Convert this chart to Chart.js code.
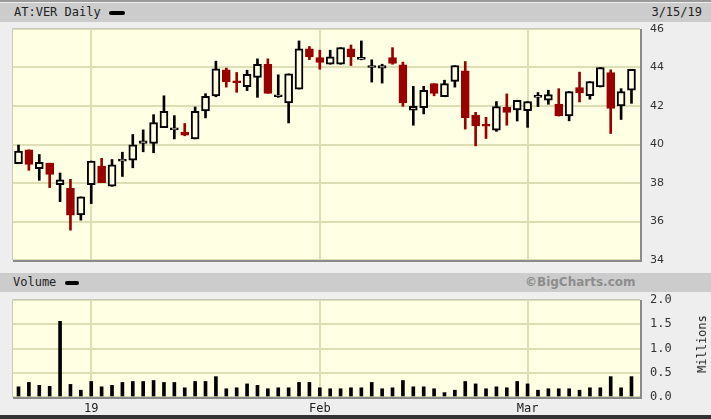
<!DOCTYPE html>
<html>
<head>
<meta charset="utf-8">
<script src="https://cdn.jsdelivr.net/npm/chart.js@4.4.1/dist/chart.umd.min.js"></script>
<style>
  html, body { margin: 0; padding: 0; }
  body {
    width: 711px; height: 419px; position: relative; overflow: hidden;
    background: #eeeeee; color: #222;
    font-family: "DejaVu Sans Mono", monospace; font-size: 12px;
  }
  .band { position: absolute; left: 0; width: 711px; height: 19px; background: #cccccc; }
  .txt { position: absolute; line-height: 19px; white-space: nowrap; }
  .dash { position: absolute; width: 16px; height: 4px; background: #000; border-radius: 2px; }
  canvas { position: absolute; left: 0; }
  #topline { position: absolute; left: 0; top: 0; width: 711px; height: 2px; background: #9a9a9a; }
  #botline { position: absolute; left: 0; top: 415px; width: 711px; height: 4px; background: #333; }
  #millions { position: absolute; left: 702px; top: 344px; transform: translate(-50%, -50%) rotate(-90deg); white-space: nowrap; }
</style>
</head>
<body>
<div id="topline"></div>
<div class="band" style="top:3px">
  <span class="txt" style="left:14px">AT:VER Daily</span>
  <div class="dash" style="left:109px; top:8px"></div>
  <span class="txt" style="right:9px">3/15/19</span>
</div>
<canvas id="priceChart" width="711" height="245" style="top:22px"></canvas>
<div class="band" style="top:273px">
  <span class="txt" style="left:13px">Volume</span>
  <div class="dash" style="left:65px; top:8px; width:14px"></div>
  <span class="txt" style="left:525px; font-family:'DejaVu Sans'; font-weight:bold; color:#8c8c8c">©BigCharts.com</span>
</div>
<canvas id="volumeChart" width="711" height="125" style="top:292px"></canvas>
<div id="millions">Millions</div>
<div id="botline"></div>

<script>
// Trading days shown (Vienna, Dec 2018 - Mar 2019)
const dates = [
    '2018-12-17', '2018-12-18', '2018-12-19', '2018-12-20', '2018-12-21', '2018-12-27', '2018-12-28',
    '2019-01-02', '2019-01-03', '2019-01-04', '2019-01-07', '2019-01-08', '2019-01-09', '2019-01-10', '2019-01-11',
    '2019-01-14', '2019-01-15', '2019-01-16', '2019-01-17', '2019-01-18', '2019-01-21', '2019-01-22', '2019-01-23',
    '2019-01-24', '2019-01-25', '2019-01-28', '2019-01-29', '2019-01-30', '2019-01-31',
    '2019-02-01', '2019-02-04', '2019-02-05', '2019-02-06', '2019-02-07', '2019-02-08', '2019-02-11', '2019-02-12',
    '2019-02-13', '2019-02-14', '2019-02-15', '2019-02-18', '2019-02-19', '2019-02-20', '2019-02-21', '2019-02-22',
    '2019-02-25', '2019-02-26', '2019-02-27', '2019-02-28',
    '2019-03-01', '2019-03-04', '2019-03-05', '2019-03-06', '2019-03-07', '2019-03-08', '2019-03-11', '2019-03-12',
    '2019-03-13', '2019-03-14', '2019-03-15'
];

const openPrices = [
    39.00, 39.72, 38.74, 39.03, 37.91, 37.72, 36.34, 37.91, 38.88, 37.83,
    39.14, 39.19, 40.05, 40.05, 40.88, 40.76, 40.64, 40.29, 41.74, 42.53,
    43.88, 43.25, 43.00, 43.48, 44.17, 42.48, 42.16, 42.88, 44.97, 44.52,
    44.17, 44.17, 44.97, 44.42, 44.00, 43.97, 44.52, 44.14, 41.78, 41.91,
    43.16, 42.48, 43.28, 43.83, 41.53, 41.00, 40.75, 41.93, 41.79, 41.76,
    42.45, 42.30, 42.10, 41.48, 42.96, 42.54, 42.99, 43.74, 42.00, 42.82
];
const highPrices = [
    39.97, 39.72, 39.48, 39.03, 38.52, 38.19, 37.28, 39.14, 39.28, 39.22,
    39.60, 40.52, 40.76, 41.55, 42.53, 41.50, 41.09, 41.95, 42.64, 44.33,
    43.97, 43.74, 43.86, 44.45, 44.45, 43.62, 43.67, 45.38, 45.09, 44.90,
    44.90, 45.03, 45.17, 45.38, 44.40, 44.17, 45.03, 44.28, 43.02, 43.02,
    43.16, 43.34, 44.10, 44.31, 41.67, 41.41, 42.23, 42.63, 42.30, 42.23,
    42.70, 42.82, 42.90, 42.75, 43.76, 43.27, 44.00, 43.88, 42.90, 43.91
];
const lowPrices = [
    39.00, 38.66, 38.14, 37.76, 37.03, 35.55, 36.07, 36.93, 38.02, 37.83,
    38.34, 38.79, 39.62, 39.57, 40.88, 40.29, 40.45, 40.29, 41.38, 42.48,
    42.98, 42.71, 42.80, 42.45, 42.66, 42.45, 41.12, 42.88, 44.41, 43.91,
    44.17, 44.17, 44.10, 44.40, 43.24, 43.19, 44.17, 41.98, 41.00, 41.59,
    42.53, 42.48, 42.98, 40.80, 39.93, 40.31, 40.68, 41.00, 41.22, 40.89,
    41.97, 42.09, 41.48, 41.23, 42.21, 42.35, 42.99, 40.57, 41.30, 42.14
];
const closePrices = [
    39.66, 38.97, 39.07, 38.45, 38.17, 36.33, 37.28, 39.14, 38.02, 38.95,
    39.14, 39.98, 40.19, 41.14, 41.72, 40.76, 40.48, 41.72, 42.50, 43.93,
    43.27, 43.20, 43.65, 44.17, 42.66, 42.48, 43.67, 44.97, 44.55, 44.26,
    44.55, 45.03, 44.55, 44.46, 44.00, 44.10, 44.21, 42.16, 41.98, 42.81,
    42.66, 43.16, 44.10, 41.39, 40.97, 40.95, 41.97, 41.67, 42.30, 42.23,
    42.45, 42.59, 41.48, 42.75, 42.68, 43.27, 44.00, 41.88, 42.75, 43.91
];

// Volume in millions of shares
const volumes = [
    0.21, 0.30, 0.24, 0.22, 1.56, 0.26, 0.14, 0.32, 0.21, 0.24,
    0.30, 0.32, 0.32, 0.34, 0.30, 0.30, 0.19, 0.32, 0.32, 0.42,
    0.17, 0.19, 0.27, 0.24, 0.17, 0.19, 0.19, 0.30, 0.30, 0.19,
    0.17, 0.17, 0.19, 0.19, 0.30, 0.17, 0.19, 0.34, 0.21, 0.21,
    0.17, 0.09, 0.14, 0.32, 0.27, 0.17, 0.21, 0.19, 0.32, 0.27,
    0.14, 0.17, 0.17, 0.17, 0.14, 0.19, 0.19, 0.42, 0.19, 0.42
];

const priceTicks = [34, 36, 38, 40, 42, 44, 46];
const volumeTicks = [0, 0.5, 1.0, 1.5, 2.0];
const monthLabels = ['19', 'Feb', 'Mar'];

const CREAM = '#ffffe4';
const GRID = '#dedeb4';
const DOWN = '#990000';
const UP = '#000000';

// first trading day of each new month gets a vertical gridline
const monthStarts = [];
dates.forEach((d, i) => {
    if (i > 0 && d.slice(0, 7) !== dates[i - 1].slice(0, 7)) monthStarts.push(i);
});

const isDown = i => closePrices[i] < openPrices[i];

const X_MIN = -0.53;
const X_MAX = 59.82;

// Cream plot area plus the bevelled frame
const plotFrame = {
    id: 'plotFrame',
    beforeDraw(chart) {
        const { ctx, chartArea: a } = chart;
        ctx.save();
        ctx.fillStyle = CREAM;
        ctx.fillRect(a.left, a.top, a.right - a.left, a.bottom - a.top);
        ctx.restore();
    },
    afterDraw(chart) {
        const { ctx, chartArea: a } = chart;
        ctx.save();
        ctx.strokeStyle = '#c9c9bb';
        ctx.lineWidth = 1;
        ctx.beginPath();
        ctx.moveTo(a.left - 0.5, a.bottom);
        ctx.lineTo(a.left - 0.5, a.top - 0.5);
        ctx.lineTo(a.right, a.top - 0.5);
        ctx.stroke();
        ctx.strokeStyle = '#8a8a8a';
        ctx.lineWidth = 2;
        ctx.beginPath();
        ctx.moveTo(a.left, a.bottom + 1);
        ctx.lineTo(a.right + 1, a.bottom + 1);
        ctx.lineTo(a.right + 1, a.top);
        ctx.stroke();
        ctx.restore();
    }
};

function xScale(showLabels) {
    return {
        type: 'linear',
        min: X_MIN,
        max: X_MAX,
        offset: false,
        afterBuildTicks: scale => {
            scale.ticks = monthStarts.map(v => ({ value: v }));
        },
        afterFit: scale => { scale.height = showLabels ? 20 : 0; },
        border: { display: false },
        grid: { color: GRID, lineWidth: 2, drawTicks: false, offset: false },
        ticks: {
            display: showLabels,
            autoSkip: false,
            maxRotation: 0,
            padding: 5,
            color: '#222',
            font: { family: 'DejaVu Sans Mono', size: 12 },
            callback: v => monthLabels[monthStarts.indexOf(v)] || ''
        }
    };
}

function yScale(tickValues, font, fmt) {
    return {
        position: 'right',
        min: tickValues[0],
        max: tickValues[tickValues.length - 1],
        afterBuildTicks: scale => {
            scale.ticks = tickValues.map(v => ({ value: v }));
        },
        afterFit: scale => { scale.width = 71; },
        border: { display: false },
        // invisible tick marks give the gap before the labels
        grid: { color: GRID, lineWidth: 2, drawTicks: true, tickLength: 10, tickColor: 'rgba(0,0,0,0)' },
        ticks: {
            padding: 0,
            color: '#333',
            font: font,
            callback: fmt
        }
    };
}

const commonOptions = {
    responsive: false,
    animation: false,
    events: [],
    plugins: { legend: { display: false }, tooltip: { enabled: false } }
};

new Chart(document.getElementById('priceChart').getContext('2d'), {
    type: 'bar',
    data: {
        datasets: [
            {
                // candle bodies (open -> close)
                order: 0,
                grouped: false,
                barThickness: 8,
                minBarLength: 2,
                borderWidth: 2,
                borderSkipped: false,
                data: dates.map((d, i) => ({ x: i, y: [openPrices[i], closePrices[i]] })),
                backgroundColor: ctx => isDown(ctx.dataIndex) ? DOWN : CREAM,
                borderColor: ctx => isDown(ctx.dataIndex) ? DOWN : UP
            },
            {
                // wicks (low -> high)
                order: 1,
                grouped: false,
                barThickness: 2,
                borderWidth: 0,
                data: dates.map((d, i) => ({ x: i, y: [lowPrices[i], highPrices[i]] })),
                backgroundColor: ctx => isDown(ctx.dataIndex) ? DOWN : UP
            }
        ]
    },
    options: {
        ...commonOptions,
        layout: { padding: { left: 13, top: 7, right: 0, bottom: 7 } },
        scales: {
            x: xScale(false),
            y: yScale(priceTicks, { family: 'DejaVu Sans', size: 11 }, v => String(v))
        }
    },
    plugins: [plotFrame]
});

new Chart(document.getElementById('volumeChart').getContext('2d'), {
    type: 'bar',
    data: {
        datasets: [{
            barThickness: 3,
            backgroundColor: '#000',
            data: dates.map((d, i) => ({ x: i, y: volumes[i] }))
        }]
    },
    options: {
        ...commonOptions,
        layout: { padding: { left: 13, top: 8, right: 0, bottom: 0 } },
        scales: {
            x: xScale(true),
            y: yScale(volumeTicks, { family: 'DejaVu Sans Mono', size: 12 }, v => v.toFixed(1))
        }
    },
    plugins: [plotFrame]
});
</script>
</body>
</html>
